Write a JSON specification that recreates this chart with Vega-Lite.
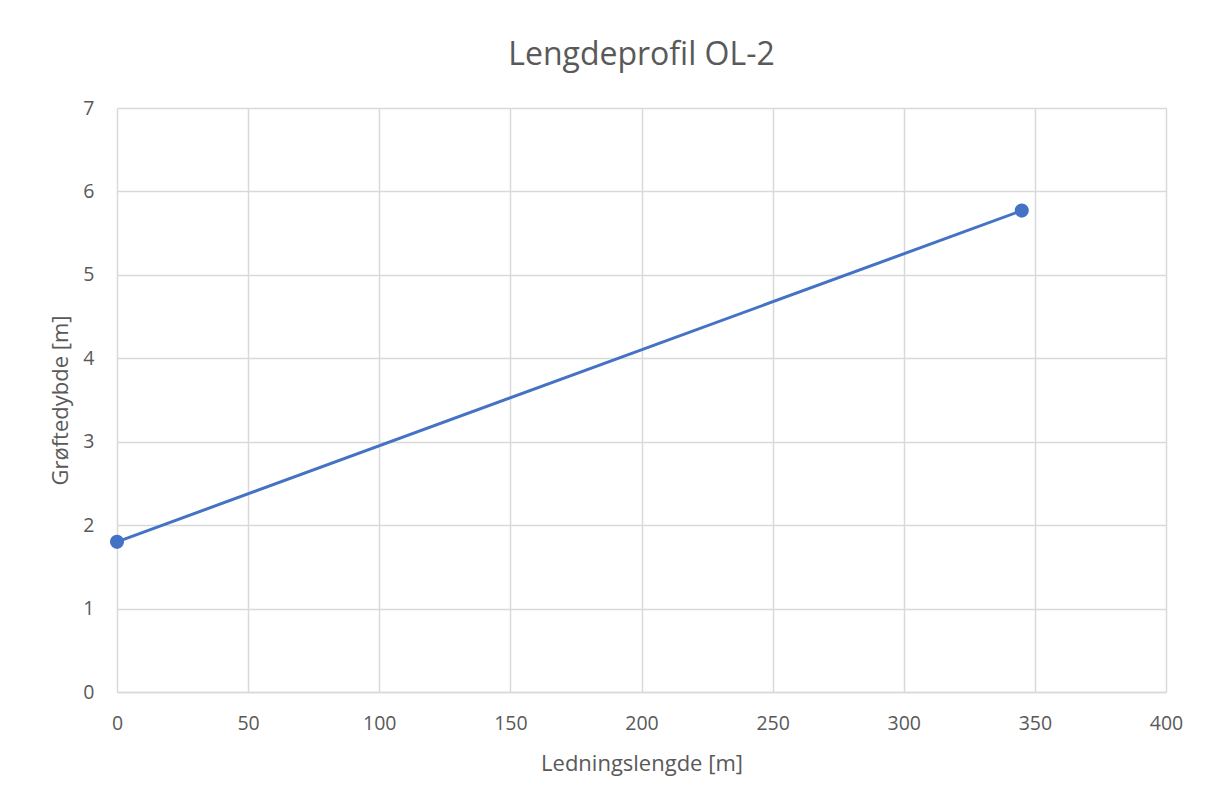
{
  "$schema": "https://vega.github.io/schema/vega-lite/v6.json",
  "width": 1049,
  "height": 584,
  "autosize": {"type": "none"},
  "padding": {"left": 117, "top": 108, "right": 43, "bottom": 111},
  "background": "white",
  "title": {
    "text": "Lengdeprofil OL-2",
    "font": "Open Sans",
    "fontSize": 32,
    "fontWeight": "normal",
    "color": "#595959",
    "anchor": "middle",
    "offset": 26
  },
  "data": {
    "values": [
      {"lengde": 0, "dybde": 1.8},
      {"lengde": 345, "dybde": 5.77}
    ]
  },
  "config": {
    "view": {"stroke": null},
    "axis": {
      "labelFont": "Open Sans",
      "titleFont": "Open Sans",
      "labelFontSize": 19.5,
      "titleFontSize": 22,
      "titleFontWeight": "normal",
      "labelColor": "#595959",
      "titleColor": "#595959",
      "gridColor": "#d9d9d9",
      "gridWidth": 1.5,
      "tickSize": 0,
      "domain": false,
      "labelFlush": false
    }
  },
  "layer": [
    {
      "mark": {"type": "line", "color": "#4472c4", "strokeWidth": 3},
      "encoding": {
        "x": {
          "field": "lengde",
          "type": "quantitative",
          "scale": {"domain": [0, 400], "nice": false},
          "axis": {
            "title": "Ledningslengde [m]",
            "values": [0, 50, 100, 150, 200, 250, 300, 350, 400],
            "format": "d",
            "labelPadding": 22,
            "titlePadding": 21,
            "domain": true,
            "domainColor": "#d9d9d9",
            "domainWidth": 1.5
          }
        },
        "y": {
          "field": "dybde",
          "type": "quantitative",
          "scale": {"domain": [0, 7], "nice": false},
          "axis": {
            "title": "Grøftedybde [m]",
            "values": [0, 1, 2, 3, 4, 5, 6, 7],
            "format": "d",
            "labelPadding": 23,
            "titlePadding": 10
          }
        }
      }
    },
    {
      "mark": {"type": "point", "filled": true, "color": "#4472c4", "opacity": 1, "size": 200},
      "encoding": {
        "x": {"field": "lengde", "type": "quantitative"},
        "y": {"field": "dybde", "type": "quantitative"}
      }
    }
  ]
}
